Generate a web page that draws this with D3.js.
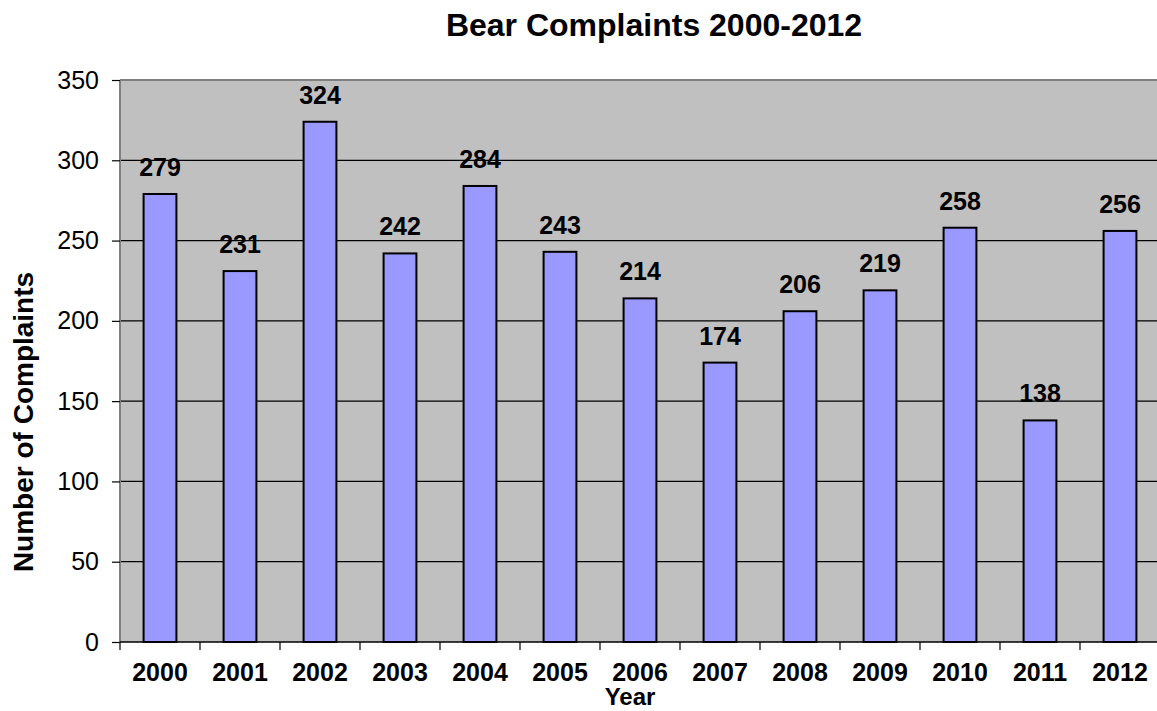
<!DOCTYPE html>
<html>
<head>
<meta charset="utf-8">
<script src="https://cdn.jsdelivr.net/npm/d3@7"></script>
<style>
  html, body { margin: 0; padding: 0; background: #fff; }
  svg { display: block; font-family: Arial, "Liberation Sans", sans-serif; }
</style>
</head>
<body>
<svg id="chart" width="1157" height="711"></svg>
<script>
// Annual bear complaint counts
const years = ["2000","2001","2002","2003","2004","2005","2006","2007","2008","2009","2010","2011","2012"];
const complaints = [279, 231, 324, 242, 284, 243, 214, 174, 206, 219, 258, 138, 256];
const yTicks = [0, 50, 100, 150, 200, 250, 300, 350];

const svg = d3.select("#chart");
const plot = { left: 120, right: 1160, top: 80, bottom: 642 };

const x = d3.scaleBand().domain(years).range([plot.left, plot.right]).padding(0);
const y = d3.scaleLinear().domain([0, 350]).range([plot.bottom, plot.top]);
const barW = x.bandwidth() * 0.41;

// Plot background
svg.append("rect")
  .attr("x", plot.left).attr("y", plot.top)
  .attr("width", plot.right - plot.left).attr("height", plot.bottom - plot.top)
  .attr("fill", "#c0c0c0");

// Horizontal gridlines
svg.append("g").selectAll("line")
  .data(yTicks.filter(d => d > 0 && d < 350))
  .join("line")
  .attr("x1", plot.left).attr("x2", plot.right)
  .attr("y1", d => y(d)).attr("y2", d => y(d))
  .attr("stroke", "#000").attr("stroke-width", 1.2);

// Plot frame (top and left)
svg.append("line")
  .attr("x1", plot.left).attr("x2", plot.right)
  .attr("y1", plot.top).attr("y2", plot.top)
  .attr("stroke", "#808080").attr("stroke-width", 2);
svg.append("line")
  .attr("x1", plot.left).attr("x2", plot.left)
  .attr("y1", plot.top).attr("y2", plot.bottom)
  .attr("stroke", "#808080").attr("stroke-width", 2);

// Bars
svg.append("g").selectAll("rect")
  .data(years.map((yr, i) => ({ yr, v: complaints[i] })))
  .join("rect")
  .attr("x", d => x(d.yr) + (x.bandwidth() - barW) / 2)
  .attr("y", d => y(d.v))
  .attr("width", barW)
  .attr("height", d => y(0) - y(d.v))
  .attr("fill", "#9999ff")
  .attr("stroke", "#000")
  .attr("stroke-width", 2);

// Value labels
svg.append("g").selectAll("text")
  .data(years.map((yr, i) => ({ yr, v: complaints[i] })))
  .join("text")
  .attr("x", d => x(d.yr) + x.bandwidth() / 2)
  .attr("y", d => y(d.v) - 18)
  .attr("text-anchor", "middle")
  .attr("font-size", 25).attr("font-weight", "bold")
  .text(d => d.v);

// Y axis
const yAxis = svg.append("g")
  .attr("transform", `translate(${plot.left},0)`)
  .call(d3.axisLeft(y).tickValues(yTicks).tickSize(8).tickPadding(13));
yAxis.select(".domain").remove();
yAxis.selectAll(".tick line").attr("stroke", "#000").attr("stroke-width", 1.2);
yAxis.selectAll(".tick text")
  .attr("font-size", 25).attr("fill", "#000")
  .attr("font-family", "Arial, 'Liberation Sans', sans-serif");

// X axis with ticks at category boundaries
const xAxisG = svg.append("g").attr("transform", `translate(0,${plot.bottom})`);
xAxisG.append("line")
  .attr("x1", plot.left).attr("x2", plot.right)
  .attr("stroke", "#000").attr("stroke-width", 1.5);
xAxisG.selectAll("line.sep")
  .data(years.map(yr => x(yr)))
  .join("line")
  .attr("class", "sep")
  .attr("x1", d => d).attr("x2", d => d)
  .attr("y1", 0).attr("y2", 8)
  .attr("stroke", "#000").attr("stroke-width", 1.2);
xAxisG.selectAll("text")
  .data(years)
  .join("text")
  .attr("x", d => x(d) + x.bandwidth() / 2)
  .attr("y", 39)
  .attr("text-anchor", "middle")
  .attr("font-size", 25).attr("font-weight", "bold")
  .text(d => d);

// Titles
svg.append("text")
  .attr("x", 654).attr("y", 36)
  .attr("text-anchor", "middle")
  .attr("font-size", 32).attr("font-weight", "bold")
  .text("Bear Complaints 2000-2012");

svg.append("text")
  .attr("x", 630).attr("y", 705)
  .attr("text-anchor", "middle")
  .attr("font-size", 24).attr("font-weight", "bold")
  .text("Year");

svg.append("text")
  .attr("transform", "translate(33,422) rotate(-90)")
  .attr("text-anchor", "middle")
  .attr("font-size", 28).attr("font-weight", "bold")
  .text("Number of Complaints");
</script>
</body>
</html>
